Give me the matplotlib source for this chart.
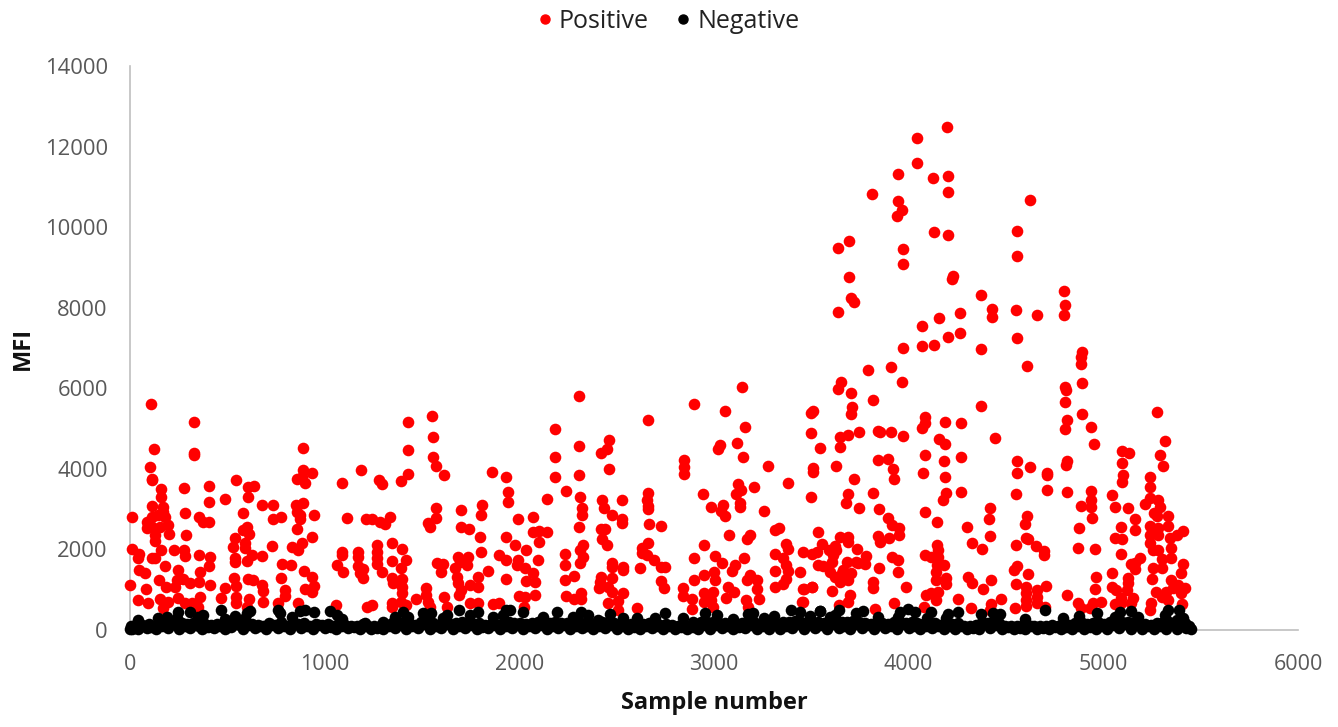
import matplotlib
matplotlib.use("Agg")
import matplotlib.pyplot as plt
from matplotlib.lines import Line2D

# values: (sample number, MFI)
pos_first = [
    (109,5601),(330,5163),(125,4501),(330,4402),(330,4353),(104,4038),(114,3757),(114,3724),(159,3509),(159,3311),
    (275,3534),(405,3575),(405,3186),(486,3261),(114,3071),(169,3046),(169,2938),(8,2806),(280,2897),(356,2806),
    (376,2690),(405,2674),(85,2690),(111,2814),(145,2856),(179,2814),(197,2608),(85,2525),(111,2566),(154,2566),
    (128,2360),(128,2219),(200,2393),(286,2360),(8,2004),(46,1888),(41,1781),(161,1996),(226,1996),(275,1979),
    (280,1847),(356,1872),(411,1822),(111,1797),(128,1797),(179,1582),(44,1499),(78,1408),(246,1483),(405,1582),
    (361,1433),(150,1243),(0,1119),(80,1020),(185,1069),(239,1243),(231,1061),(274,1268),(308,1160),(356,1202),
    (411,1119),(39,738),(94,664),(154,780),(197,705),(248,788),(282,681),(316,681),(359,829),(171,540),(351,581),
    (542,3724),(607,3542),(635,3575),(607,3311),(678,3112),(734,3096),(578,2897),(734,2748),(775,2798),(599,2550),
    (582,2484),(613,2376),(537,2293),(530,2070),(590,2153),(590,2029),(625,1863),(678,1847),(602,1723),(732,2095),
    (537,1781),(537,1698),(534,1284),(542,1094),(607,1268),(633,1243),(678,1119),(685,978),(467,805),(488,1044),
    (542,829),(542,664),(613,780),(599,581),(683,689),(758,664),(794,995),(794,846),(775,1284),(780,1632),
    (827,1615),(861,681),(890,4526),(890,3972),(856,3749),(936,3889),(899,3641),(881,3807),(852,3104),(890,3145),
    (856,2938),(873,2856),(873,2748),(946,2856),(856,2500),(934,2310),(881,2153),(830,2070),(861,1987),(895,1466),
    (936,1326),(946,1094),(899,1020),(936,945),(1090,3650),(1186,3964),(1280,3724),(1292,3625),(1392,3699),(1429,3865),
    (1429,4477),(1429,5155),(1549,5312),(1554,4791),(1554,4286),(1570,4063),(1614,3848),(1116,2773),(1212,2748),(1241,2748),
    (1284,2690),(1309,2624),(1338,2806),(1090,1946),(1090,1863),(1061,1607),(1095,1433),(1171,1946),(1171,1822),(1171,1599),
    (1198,1516),(1181,1425),(1198,1284),(1267,2111),(1267,1946),(1267,1781),(1267,1632),(1292,1433),(1347,2169),(1398,2020),
    (1347,1706),(1417,1731),(1392,1533),(1344,1284),(1352,1160),(1398,1268),(1398,1078),(1398,912),(1347,664),(1347,581),
    (1219,581),(1241,623),(1056,623),(1392,705),(1417,623),(1570,3021),(1570,2773),(1529,2649),(1541,2550),(1700,2971),
    (1806,3104),(1801,2847),(1700,2558),(1741,2500),(1796,2310),(1861,3914),(1934,3798),(1943,3435),(1943,3186),(1931,2318),
    (1801,1946),(1897,1872),(1934,1731),(1575,1673),(1609,1632),(1600,1450),(1683,1822),(1734,1822),(1729,1615),(1695,1698),
    (1840,1466),(1789,1326),(1669,1533),(1678,1326),(1686,1160),(1698,995),(1689,871),(1746,1119),(1789,1078),(1934,1268),
    (1518,1036),(1523,871),(1529,705),(1469,763),(1614,829),(1626,581),(1746,664),(1789,681),(1866,647),(1897,681),(1541,581),
]
pos_second = [
    (2304,5816),(2660,5213),(2896,5601),(3059,5428),(3145,6040),(2182,4989),(2307,4576),(2460,4725),(2451,4493),(2419,4386),
    (2182,4286),(2182,3798),(2304,3840),(2460,3997),(2143,3261),(2239,3451),(2313,3311),(2323,3038),(2323,2856),(2424,3220),
    (2434,3021),(2525,3236),(2475,2847),(2525,2748),(2525,2649),(2309,2558),(2422,2508),(2439,2508),(2424,2260),(2448,2111),
    (2328,2111),(2311,1987),(2328,1805),(2311,1656),(1992,2748),(2071,2806),(2071,2434),(2102,2459),(2143,2434),(1977,2111),
    (2099,2194),(2034,1996),(2097,1747),(1994,1739),(1986,1615),(2028,1532),(2071,1408),(2032,1218),(2083,1193),(1999,846),
    (2028,813),(2078,871),(2023,581),(2237,1888),(2234,1607),(2234,1243),(2283,1342),(2239,846),(2283,763),(2319,912),
    (2316,772),(2474,1656),(2474,1574),(2535,1574),(2535,1491),(2422,1326),(2414,1202),(2408,1036),(2475,1284),(2456,1078),
    (2477,945),(2535,929),(2455,681),(2509,730),(2509,499),(2605,540),(2662,3410),(2658,3228),(2662,3079),(2662,2996),
    (2665,2624),(2727,2583),(2662,2169),(2628,2029),(2628,1905),(2658,1863),(2691,1739),(2727,1557),(2747,1557),(2621,1532),
    (2727,1218),(2741,1036),(2847,4220),(2847,4038),(2847,3865),(2944,3377),(2987,3062),(3044,3104),(3038,2963),(3056,2839),
    (3033,4592),(3021,4493),(3119,4650),(3158,5031),(3150,4303),(3275,4063),(3381,3650),(3205,3559),(3124,3616),(3141,3476),
    (3112,3368),(3133,3145),(3133,3062),(3256,2963),(3078,2359),(3184,2359),(3167,2252),(2948,2111),(3004,1847),(2898,1797),
    (3040,1656),(3155,1781),(3107,1615),(3095,1466),(3000,1450),(2948,1367),(3003,1243),(2898,1243),(2842,1053),(2842,846),
    (2888,763),(2886,532),(2948,912),(2948,705),(2996,937),(2987,747),(2996,581),(3073,1061),(3104,954),(3064,805),
    (3187,1367),(3167,1243),(3223,1243),(3223,1012),(3230,780),(3163,747),(3175,581),(3312,2483),(3335,2525),(3372,2128),
    (3381,2004),(3312,1880),(3355,1781),(3372,1615),(3312,1474),(3381,1474),(3372,1268),(3355,1144),(3312,1078),(3441,1433),
    (3458,1020),(3501,1078),(3453,697),
]
pos_third = [
    (3497,5378),(3506,5444),(3497,4882),(3547,4510),(3497,3311),(3506,4010),(3506,3930),(3650,6164),(3638,5982),(3703,5891),
    (3711,5543),(3706,5353),(3818,5709),(3968,6164),(3646,4783),(3689,4840),(3648,4551),(3744,4923),(3843,4940),(3855,4907),
    (3908,4907),(3970,4816),(3843,4220),(3895,4253),(3919,3997),(3924,3749),(3628,4063),(3718,3749),(3689,3385),(3677,3162),
    (3744,3038),(3819,3401),(3848,2996),(3895,2790),(3912,2608),(3951,2525),(3951,2359),(3900,2293),(3843,2335),(3852,2194),
    (3532,2434),(3646,2301),(3689,2318),(3689,2178),(3557,2128),(3458,1946),(3501,1888),(3527,1946),(3624,2095),(3592,1987),
    (3612,1863),(3629,1987),(3607,1698),(3535,1615),(3561,1599),(3681,1698),(3735,2012),(3732,1698),(3783,1838),(3775,1640),
    (3741,1656),(3595,1450),(3621,1326),(3655,1408),(3664,1491),(3646,1202),(3689,1243),(3706,1408),(3504,1078),(3462,1020),
    (3607,978),(3698,871),(3689,705),(3641,623),(3458,705),(3848,1532),(3914,1805),(3946,1739),(3946,1450),(3818,1185),
    (3818,1036),(3985,1078),(3925,664),(3826,515),(4083,5295),(4083,5130),(4069,5006),(4186,5155),(4271,5138),(4374,5568),
    (4442,4774),(4155,4749),(4189,4617),(4086,4353),(4181,4187),(4271,4303),(4076,3889),(4186,3790),(4271,3435),(4194,3393),
    (4174,3228),(4086,2938),(4145,2674),(4417,3038),(4412,2748),(4302,2558),(4417,2343),(4323,2169),(4376,2020),(4146,2111),
    (4151,1987),(4083,1863),(4117,1822),(4151,1822),(4181,1615),(4143,1615),(4138,1450),(4139,1243),(4191,1284),(4191,1144),
    (4306,1309),(4323,1160),(4425,1243),(4383,1020),(4088,871),(4117,912),(4151,954),(4139,747),(4078,581),(4251,780),
    (4321,540),(4425,647),(4417,499),(4472,763),
]
pos_fourth = [
    (4554,4204),(4622,4038),(4554,3889),(4711,3906),(4711,3848),(4710,3484),(4550,3377),(4610,2831),(4597,2624),(4605,2277),
    (4614,2252),(4549,2111),(4653,2095),(4696,1971),(4696,1863),(4554,1599),(4542,1491),(4614,1384),(4550,1136),(4708,1094),
    (4605,1078),(4605,912),(4605,747),(4605,598),(4660,995),(4660,829),(4660,664),(4699,581),(4545,557),(4802,6040),
    (4807,5957),(4888,6139),(4802,5659),(4888,5353),(4811,5213),(4805,4981),(4936,5031),(4951,4625),(4811,4195),(4807,4096),
    (4936,3459),(4811,3435),(5042,3360),(4936,3228),(4936,3046),(4884,3087),(5062,3062),(5127,3038),(4942,2773),(4876,2533),
    (4871,2045),(4956,2020),(4961,1309),(4956,1020),(4811,871),(4871,664),(4883,540),(4987,705),(4948,664),(4930,540),
    (5096,4443),(5132,4386),(5096,4137),(5102,3848),(5096,3666),(5278,5403),(5319,4691),(5293,4344),(5304,4080),(5239,3798),
    (5239,3559),(5213,3129),(5239,3269),(5281,3228),(5290,3062),(5259,2914),(5276,2831),(5333,2831),(5333,2583),(5165,2748),
    (5161,2483),(5093,2566),(5059,2293),(5096,2252),(5242,2591),(5281,2525),(5239,2359),(5281,2359),(5239,2153),(5256,1987),
    (5281,1987),(5410,2467),(5376,2359),(5341,2277),(5350,2045),(5093,1880),(5187,1781),(5161,1656),(5144,1640),(5161,1516),
    (5302,1764),(5299,1532),(5256,1532),(5350,1781),(5410,1640),(5398,1408),(5042,1408),(5127,1284),(5127,1160),(5122,995),
    (5249,1268),(5042,1078),(5067,995),(5350,1243),(5384,1119),(5418,1036),(5273,954),(5299,829),(5324,954),(5358,1036),
    (5333,747),(5401,912),(5153,788),(5093,788),(5093,664),(5059,647),(5144,681),(5244,681),(5239,499),(5406,647),
]
pos_peak = [
    (4196,12484),(4045,12211),(4045,11583),(3944,11318),(4126,11211),(4203,11269),(4203,10872),(3814,10830),(3944,10657),(3965,10425),
    (3939,10284),(4622,10681),(4131,9879),(4201,9796),(4554,9904),(4554,9292),(3693,9656),(3638,9490),(3970,9466),(3970,9077),
    (3693,8763),(4229,8796),(4222,8721),(3706,8233),(3720,8142),(3638,7886),(4372,8325),(4800,8415),(4805,8076),(4800,7812),
    (4427,7960),(4427,7762),(4549,7952),(4658,7812),(4266,7861),(4155,7737),(4071,7547),(4263,7373),(4201,7274),(4554,7249),
    (4131,7076),(4071,7051),(3970,7010),(4372,6985),(4891,6910),(4884,6786),(4886,6612),(4609,6546),(3789,6447),(3908,6522),
]
neg_bumps = [
    (42,250),(145,292),(188,333),(248,458),(308,458),(239,292),(351,333),(376,375),(467,500),(488,267),
    (539,350),(599,416),(616,480),(591,292),(762,500),(770,416),(830,333),(873,480),(898,500),(945,440),
    (1027,470),(1061,375),(1087,267),(1207,168),(1301,209),(1361,312),(1404,458),(1429,333),(1506,416),(1544,416),
    (1515,292),(1626,375),(1609,292),(1691,500),(1746,375),(1789,440),(1866,312),(1934,500),(1951,500),(1917,375),
    (2020,440),(2123,333),(2194,440),(2277,333),(2319,458),(2354,375),(2405,250),(2465,390),(2530,292),(2605,310),
    (2696,292),(2747,416),(2842,292),(2893,209),(2953,430),(3013,375),(3098,267),(3175,400),(3201,416),(3256,292),
    (3309,350),(3398,500),(3441,458),(3492,350),(3543,470),(3641,500),(3595,333),(3732,416),(3766,470),(3843,312),
    (3544,470),(3621,375),(3955,458),(3946,333),(3997,515),(4032,458),(4114,458),(4092,292),(4203,390),(4254,440),
    (4194,292),(4374,400),(4468,390),(4434,416),(4597,267),(4699,500),(4793,292),(4876,350),(4965,416),(5084,440),
    (5059,333),(5141,480),(5179,312),(5333,500),(5389,500),(5316,375),(5410,290),(5376,250),
]
neg_base = [
    (0,20),(5,90),(12,30),(25,70),(40,15),(60,120),(85,40),(110,80),(135,25),(165,110),(195,45),(225,150),(250,30),(280,95),
    (310,40),(340,130),(370,20),(400,85),(430,40),(460,110),(490,25),(520,70),(550,150),(580,35),(610,120),(640,45),(670,90),
    (700,30),(730,130),(760,50),(790,100),(820,25),(850,140),(880,40),(910,95),(940,30),(970,120),(1000,45),(1030,85),(1060,20),
    (1090,110),(1120,40),(1150,70),(1180,25),(1210,90),(1240,35),(1270,60),(1300,20),(1330,105),(1360,45),(1390,130),(1420,30),
    (1450,90),(1480,40),(1510,140),(1540,25),(1570,100),(1600,45),(1630,140),(1660,20),(1690,110),(1720,40),(1750,130),(1780,25),
    (1810,85),(1840,40),(1870,120),(1900,30),(1930,90),(1960,45),(1990,130),(2020,25),(2050,100),(2080,40),(2110,120),(2140,30),
    (2170,90),(2200,45),(2230,130),(2260,25),(2290,110),(2320,40),(2350,95),(2380,20),(2410,110),(2440,45),(2470,130),(2500,25),
    (2530,90),(2560,35),(2590,85),(2620,20),(2650,110),(2680,40),(2710,90),(2740,25),(2770,100),(2800,35),(2830,75),(2860,20),
    (2890,70),(2920,35),(2950,130),(2980,25),(3010,120),(3040,40),(3070,100),(3100,20),(3130,85),(3160,45),(3190,130),(3220,25),
    (3250,95),(3280,35),(3310,120),(3340,30),(3370,100),(3400,45),(3430,150),(3460,25),(3490,130),(3520,40),(3550,120),(3580,25),
    (3610,140),(3640,40),(3670,110),(3700,30),(3730,150),(3760,45),(3790,120),(3820,25),(3850,130),(3880,40),(3910,105),(3940,25),
    (3970,140),(4000,40),(4030,110),(4060,25),(4090,95),(4120,40),(4150,90),(4180,20),(4210,100),(4240,35),(4270,110),(4300,20),
    (4330,60),(4360,30),(4390,140),(4420,40),(4450,120),(4480,25),(4510,70),(4540,30),(4570,60),(4600,20),(4630,90),(4660,35),
    (4690,50),(4720,20),(4750,70),(4780,30),(4810,85),(4840,20),(4870,110),(4900,35),(4930,70),(4960,20),(4990,105),(5020,30),
    (5050,120),(5080,40),(5110,140),(5140,25),(5170,130),(5200,35),(5230,95),(5260,20),(5290,110),(5320,35),(5350,120),(5380,25),
    (5410,130),(5425,40),(5440,90),(5450,25),
]
neg_fill = [
    (15,110),(45,130),(75,90),(100,140),(125,110),(150,170),(180,120),(210,190),(240,130),(265,180),(295,140),(325,170),(355,110),(385,150),
    (415,120),(445,140),(475,110),(505,130),(535,180),(565,120),(595,190),(625,150),(655,130),(685,110),(715,170),(745,130),(775,190),(805,110),
    (835,170),(865,140),(895,180),(925,110),(955,160),(985,120),(1015,150),(1045,100),(1075,170),(1105,120),(1135,100),(1165,110),(1195,140),(1225,90),
    (1255,100),(1285,110),(1315,130),(1345,170),(1375,180),(1405,190),(1435,170),(1465,130),(1495,190),(1525,200),(1555,170),(1585,130),(1615,190),(1645,150),
    (1675,170),(1705,190),(1735,180),(1765,160),(1795,170),(1825,130),(1855,150),(1885,130),(1915,180),(1945,190),(1975,170),(2005,180),(2035,150),(2065,170),
    (2095,190),(2125,160),(2155,170),(2185,190),(2215,180),(2245,170),(2275,190),(2305,200),(2335,180),(2365,150),(2395,170),(2425,190),(2455,200),(2485,170),
    (2515,150),(2545,130),(2575,150),(2605,170),(2635,150),(2665,170),(2695,150),(2725,130),(2755,150),(2785,130),(2815,110),(2845,130),(2875,110),(2905,130),
    (2935,190),(2965,200),(2995,190),(3025,180),(3055,170),(3085,150),(3115,130),(3145,170),(3175,200),(3205,190),(3235,150),(3265,130),(3295,170),(3325,150),
    (3355,200),(3385,210),(3415,230),(3445,190),(3475,180),(3505,170),(3535,190),(3565,180),(3595,210),(3625,220),(3655,190),(3685,200),(3715,230),(3745,210),
    (3775,170),(3805,150),(3835,190),(3865,170),(3895,160),(3925,200),(3955,210),(3985,180),(4015,190),(4045,170),(4075,150),(4105,200),(4135,170),(4165,130),
    (4195,180),(4225,150),(4255,170),(4285,110),(4315,100),(4345,130),(4375,190),(4405,170),(4435,200),(4465,170),(4495,110),(4525,100),(4555,110),(4585,130),
    (4615,110),(4645,100),(4675,90),(4705,100),(4735,120),(4765,110),(4795,150),(4825,130),(4855,170),(4885,190),(4915,140),(4945,170),(4975,190),(5005,150),
    (5035,190),(5065,210),(5095,190),(5125,210),(5155,190),(5185,170),(5215,150),(5245,130),(5275,170),(5305,190),(5335,210),(5365,170),(5395,190),(5420,170),
]

tick_color = "#595959"
axis_color = "#bfbfbf"
plt.rcParams["font.family"] = "Open Sans"

fig = plt.figure(figsize=(13.38, 7.27), dpi=100)
ax = fig.add_axes([130 / 1338, 1 - 630 / 727, 1168 / 1338, 564 / 727])

positive = pos_first + pos_second + pos_third + pos_fourth + pos_peak
negative = neg_base + neg_fill + neg_bumps
ax.scatter([p[0] for p in positive], [p[1] for p in positive], s=70, color="#ff0000", linewidths=0, clip_on=False, zorder=3)
ax.scatter([p[0] for p in negative], [p[1] for p in negative], s=70, color="black", linewidths=0, clip_on=False, zorder=4)

ax.set_xlim(0, 6000)
ax.set_ylim(0, 14000)
ax.set_xticks(range(0, 7000, 1000))
ax.set_yticks(range(0, 16000, 2000))
ax.tick_params(axis="x", length=0, labelsize=15.5, labelcolor=tick_color, pad=17)
ax.tick_params(axis="y", length=0, labelsize=15.8, labelcolor=tick_color, pad=16)
for side in ["top", "right"]:
    ax.spines[side].set_visible(False)
for side in ["left", "bottom"]:
    ax.spines[side].set_color(axis_color)
    ax.spines[side].set_linewidth(1.2)

ax.set_xlabel("Sample number", fontsize=17, fontweight="bold", color="#111111", labelpad=12)
ax.set_ylabel("MFI", fontsize=17, fontweight="bold", color="#111111", labelpad=7)

handles = [
    Line2D([], [], linestyle="none", marker="o", markersize=6.5, color="#ff0000", label="Positive"),
    Line2D([], [], linestyle="none", marker="o", markersize=6.5, color="black", label="Negative"),
]
fig.legend(handles=handles, loc="upper center", bbox_to_anchor=(0.4985, 1.019), ncol=2, frameon=False,
           fontsize=18, handlelength=0.8, handletextpad=0.15, columnspacing=1.0, labelcolor="#222222")

fig.savefig("out.png", dpi=100)
